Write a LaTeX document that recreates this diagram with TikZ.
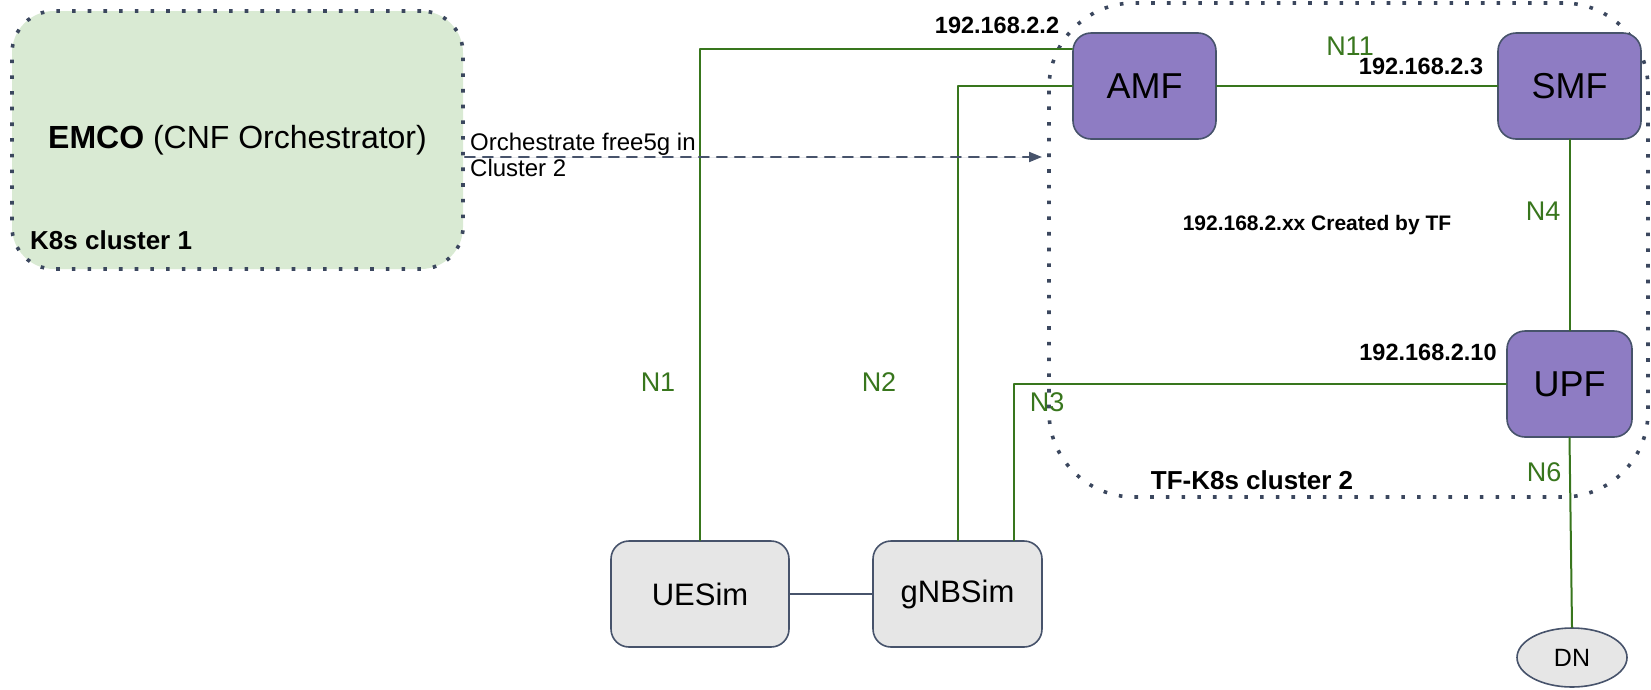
\documentclass[tikz,border=0pt]{standalone}
\usepackage{fontspec}
\setmainfont{Liberation Sans}
\usepackage{pgf,tikz}
\usetikzlibrary{arrows,arrows.meta}
\usetikzlibrary{shapes.geometric}
\definecolor{clgreen}{HTML}{D9EAD3}
\definecolor{nfpurple}{HTML}{8E7CC3}
\definecolor{simgray}{HTML}{E6E6E6}
\definecolor{ifgreen}{HTML}{38761D}
\definecolor{slate}{HTML}{47536B}
\definecolor{dotslate}{HTML}{3B475E}

\begin{document}
\begin{tikzpicture}[line cap=round,line join=round,>={Triangle[length=13pt,width=10pt]},x=1pt,y=-1pt,
  cluster/.style={draw=dotslate,line width=3.6pt,line cap=butt,dash pattern=on 3.6pt off 12.1pt,rounded corners=#1,inner sep=0pt},
  nf/.style={draw=slate,line width=1.6pt,fill=nfpurple,rounded corners=18pt,minimum width=143pt,minimum height=106pt,inner sep=0pt,font=\fontsize{36}{40}\selectfont},
  sim/.style={draw=slate,line width=1.6pt,fill=simgray,rounded corners=18pt,minimum height=106pt,inner sep=0pt,font=\fontsize{31}{36}\selectfont},
  iface/.style={draw=ifgreen,line width=2pt},
  nlabel/.style={text=ifgreen,inner sep=0pt,font=\fontsize{27}{30}\selectfont},
  iplabel/.style={inner sep=0pt,font=\fontsize{23.5}{26}\selectfont\bfseries}]
\useasboundingbox (0,0) rectangle (1651,689);
% clusters
\node (k8s1) [cluster=42pt,fill=clgreen,minimum width=451pt,minimum height=258pt,font=\fontsize{32}{36}\selectfont] at (237.5,140) {\textbf{EMCO} (CNF Orchestrator)};
\node (k8s1lbl) [anchor=west,inner sep=0pt,font=\fontsize{26}{30}\selectfont\bfseries] at (30,240) {K8s cluster 1};
\node (k8s2) [cluster=85pt,minimum width=599pt,minimum height=494pt] at (1348.5,250) {};
\node (k8s2lbl) [inner sep=0pt,font=\fontsize{26}{30}\selectfont\bfseries] at (1252,480) {TF-K8s cluster 2};
\node (tfnet) [inner sep=0pt,font=\fontsize{21}{24}\selectfont\bfseries] at (1317,225) {192.168.2.xx Created by TF};
% network functions
\node (amf) [nf] at (1144.5,86) {AMF};
\node (smf) [nf] at (1569.5,86) {SMF};
\node (upf) [nf,minimum width=125pt] at (1569.5,384) {UPF};
\node (uesim) [sim,minimum width=178pt] at (700,594) {UESim};
\node (gnbsim) [sim,minimum width=169pt] at (957.5,594) {gNBSim};
\node (dn) [ellipse,draw=slate,line width=1.6pt,fill=simgray,minimum width=110pt,minimum height=59pt,inner sep=0pt,font=\fontsize{25}{28}\selectfont] at (1572,657.5) {DN};
% interfaces
\draw [iface] (uesim.north) |- ([yshift=-17pt]amf.north west);
\draw [iface] (gnbsim.north) |- (amf.west);
\draw [iface] ([xshift=-29pt]gnbsim.north east) |- (upf.west);
\draw [iface] (amf.east) -- (smf.west);
\draw [iface] (smf.south) -- (upf.north);
\draw [iface] (upf.south) -- (dn.north);
\draw [draw=slate,line width=1.6pt] (uesim.east) -- (gnbsim.west);
\node (n1lbl) [nlabel] at (658,382) {N1};
\node (n2lbl) [nlabel] at (879,382) {N2};
\node (n3lbl) [nlabel] at (1047,402) {N3};
\node (n11lbl) [nlabel] at (1350,46) {N11};
\node (n4lbl) [nlabel] at (1543,211) {N4};
\node (n6lbl) [nlabel] at (1544,472) {N6};
\node (ip2) [iplabel] at (997,25) {192.168.2.2};
\node (ip3) [iplabel] at (1421,66) {192.168.2.3};
\node (ip10) [iplabel] at (1428,352) {192.168.2.10};
% orchestration
\coordinate (c2in) at (1042,157);
\draw [draw=slate,fill=slate,line width=2pt,dash pattern=on 10pt off 8pt,->] (k8s1.east |- c2in) -- (c2in);
\node (orchlbl) [anchor=west,align=left,inner sep=0pt,font=\fontsize{24}{26}\selectfont] at (470,155) {Orchestrate free5g in\\Cluster 2};
\end{tikzpicture}
\end{document}
